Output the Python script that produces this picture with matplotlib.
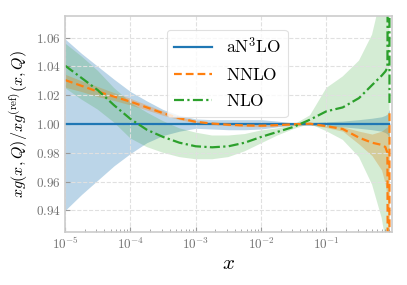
import numpy as np
import matplotlib
matplotlib.use("Agg")
import matplotlib.pyplot as plt
from matplotlib.ticker import FuncFormatter, FixedLocator, LogLocator, NullFormatter

plt.rcParams['mathtext.fontset'] = 'cm'
plt.rcParams['font.family'] = ['DejaVu Serif']

# x grid
x = [1e-5, 1.78e-5, 3.16e-5, 5.62e-5, 1e-4, 1.78e-4, 3.16e-4, 5.62e-4,
     1e-3, 1.78e-3, 3.16e-3, 5.62e-3, 1e-2, 1.78e-2, 3.16e-2, 5.62e-2,
     0.1, 0.178, 0.316, 0.5, 0.7, 0.8, 0.86, 0.92, 0.925]

# aN3LO (reference) central and band
an3lo_c = [1.0] * len(x)
an3lo_lo = [0.940, 0.951, 0.961, 0.971, 0.9795, 0.987, 0.992, 0.995,
            0.997, 0.9965, 0.996, 0.996, 0.9965, 0.998, 0.9993, 0.999,
            0.9985, 0.998, 0.997, 0.996, 0.995, 0.994, 0.993, 0.99, 0.99]
an3lo_hi = [1.0590, 1.049, 1.040, 1.031, 1.0225, 1.016, 1.010, 1.006,
            1.0035, 1.003, 1.003, 1.003, 1.003, 1.002, 1.0007, 1.001,
            1.0015, 1.002, 1.003, 1.004, 1.005, 1.006, 1.007, 1.01, 1.01]

# NNLO
nnlo_c = [1.0305, 1.0265, 1.0225, 1.019, 1.0155, 1.0115, 1.0075, 1.004,
          1.0015, 1.0003, 0.9995, 0.999, 0.9988, 0.9992, 0.9998, 1.0002,
          0.9985, 0.9965, 0.9905, 0.987, 0.9855, 0.984, 0.980, 0.5, 1.0076]
nnlo_lo = [1.0255, 1.0225, 1.019, 1.0163, 1.0132, 1.0097, 1.006, 1.003,
           1.0007, 0.9996, 0.9988, 0.9983, 0.9981, 0.9985, 0.9991, 0.9995,
           0.9975, 0.9950, 0.9860, 0.978, 0.968, 0.958, 0.948, 0.90, 0.90]
nnlo_hi = [1.0345, 1.030, 1.026, 1.0217, 1.0178, 1.0133, 1.009, 1.005,
           1.0023, 1.0010, 1.0002, 0.9997, 0.9995, 0.9999, 1.0005, 1.0009,
           0.9995, 0.9980, 0.9950, 0.993, 0.995, 0.997, 0.998, 1.0, 1.01]

# NLO
nlo_c = [1.0405, 1.032, 1.0235, 1.013, 1.0035, 0.996, 0.991, 0.987,
         0.9845, 0.9838, 0.9845, 0.987, 0.991, 0.9945, 0.998, 1.003,
         1.0088, 1.0115, 1.018, 1.027, 1.0335, 1.0365, 1.039, 1.5, 1.0146]
nlo_lo = [1.025, 1.017, 1.010, 1.001, 0.990, 0.984, 0.980, 0.977,
          0.9755, 0.9755, 0.977, 0.981, 0.9865, 0.992, 0.9965, 1.0,
          0.995, 0.989, 0.977, 0.958, 0.935, 0.92, 0.90, 0.85, 0.85]
nlo_hi = [1.056, 1.047, 1.037, 1.025, 1.015, 1.008, 1.002, 0.997,
          0.994, 0.992, 0.992, 0.993, 0.9955, 0.997, 0.9995, 1.006,
          1.025, 1.033, 1.044, 1.062, 1.09, 1.11, 1.15, 1.3, 1.3]

xticks = [1e-5, 1e-4, 1e-3, 1e-2, 1e-1]
yticks = [0.94, 0.96, 0.98, 1.00, 1.02, 1.04, 1.06]

c_blue, c_orange, c_green = '#1f77b4', '#ff7f0e', '#2ca02c'

fig = plt.figure(figsize=(4.07, 2.85), dpi=100)
ax = fig.add_axes([0.16, 0.186, 0.8024, 0.758])

ax.fill_between(x, an3lo_lo, an3lo_hi, color=c_blue, alpha=0.3, lw=0)
ax.fill_between(x, nnlo_lo, nnlo_hi, color=c_orange, alpha=0.3, lw=0)
ax.fill_between(x, nlo_lo, nlo_hi, color=c_green, alpha=0.2, lw=0)

ax.plot(x, an3lo_c, color=c_blue, lw=1.6, ls='-', label=r'$\mathrm{aN^3LO}$')
ax.plot(x, nnlo_c, color=c_orange, lw=1.6, ls=(0, (3.5, 1.8)), label=r'$\mathrm{NNLO}$')
ax.plot(x, nlo_c, color=c_green, lw=1.6, ls=(0, (4.5, 1.5, 1, 1.5)), label=r'$\mathrm{NLO}$')

ax.set_xscale('log')
ax.set_xlim(1e-5, 1.0)
ax.set_ylim(0.925, 1.075)

ax.xaxis.set_major_locator(FixedLocator(xticks))
ax.xaxis.set_minor_locator(LogLocator(base=10, subs=np.arange(2, 10)))
ax.xaxis.set_minor_formatter(NullFormatter())
ax.xaxis.set_major_formatter(FuncFormatter(lambda v, p: r'$10^{%d}$' % round(np.log10(v))))
ax.yaxis.set_major_locator(FixedLocator(yticks))
ax.yaxis.set_major_formatter(FuncFormatter(lambda v, p: r'$%.2f$' % v))

ax.tick_params(which='major', direction='in', length=3.5, width=0.8, color='0.6',
               labelsize=9.5, labelcolor='0.45', pad=3)
ax.tick_params(which='minor', direction='in', length=2, width=0.6, color='0.6')

ax.grid(True, which='major', ls='--', color='0.88', lw=0.8)
for s in ax.spines.values():
    s.set_color('0.8')
    s.set_linewidth(1.2)

ax.set_xlabel(r'$x$', fontsize=15, labelpad=1)
ax.set_ylabel(r'$xg(x,Q)/xg^{(\mathrm{ref})}(x,Q)$', fontsize=11.5, labelpad=4)

leg = ax.legend(loc='upper center', bbox_to_anchor=(0.497, 1.0), fontsize=12.5,
                frameon=True, fancybox=True, handlelength=2.2, handletextpad=0.8,
                borderpad=0.4, labelspacing=0.55, borderaxespad=0.8)
leg.get_frame().set_edgecolor('0.85')
leg.get_frame().set_linewidth(0.8)

fig.savefig('out.png', dpi=100)
